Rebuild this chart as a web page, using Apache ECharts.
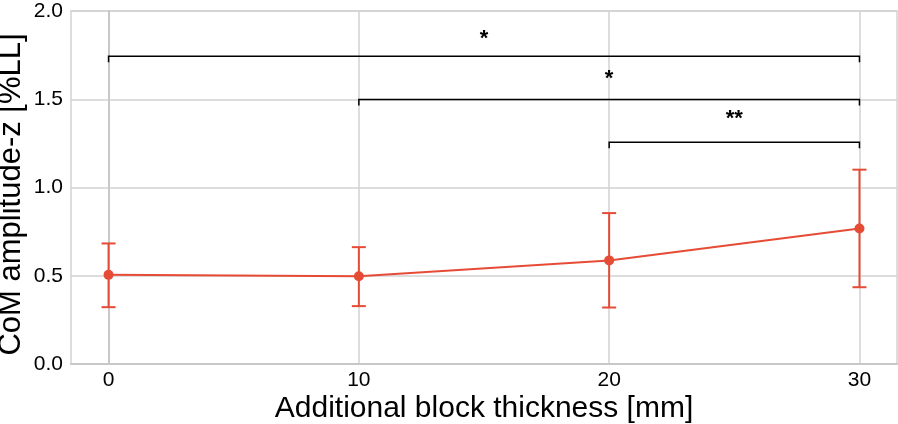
<!DOCTYPE html>
<html>
<head>
<meta charset="utf-8">
<script src="https://cdn.jsdelivr.net/npm/echarts@6/dist/echarts.min.js"></script>
<style>
  html, body { margin: 0; padding: 0; background: #fff; }
  #chart { width: 898px; height: 424px; }
</style>
</head>
<body>
<div id="chart"></div>
<script>
// ---- data ----
const xTicks = [0, 10, 20, 30];
const thickness = [0, 10, 20, 30];
const meanAmp = [0.505, 0.497, 0.587, 0.768];
const lowerAmp = [0.322, 0.328, 0.320, 0.435];
const upperAmp = [0.683, 0.662, 0.855, 1.101];
const bracketStart = [0, 10, 20];
const bracketEnd = [30, 30, 30];
const bracketLevel = [1.743, 1.498, 1.257];
const starLevel = [1.868, 1.641, 1.417];
const bracketLabel = ['*', '*', '**'];

const RED = '#E64B35';
const FONT = '"Liberation Sans", Arial, Helvetica, sans-serif';

const chart = echarts.init(document.getElementById('chart'), null, { renderer: 'canvas' });

const errData = thickness.map((x, i) => [x, lowerAmp[i], upperAmp[i]]);
const lineData = thickness.map((x, i) => [x, meanAmp[i]]);
const brData = bracketStart.map((s, i) => [s, bracketEnd[i], bracketLevel[i], starLevel[i]]);

const option = {
  animation: false,
  backgroundColor: '#ffffff',
  grid: {
    left: 71, right: 1, top: 11, bottom: 60,
    containLabel: false,
    outerBoundsMode: 'none',
    show: true, borderColor: '#d2d2d2', borderWidth: 1.5
  },
  xAxis: {
    type: 'value',
    min: -1.5, max: 31.5,
    name: 'Additional block thickness [mm]',
    nameLocation: 'middle',
    nameGap: 30,
    nameMoveOverlap: false,
    nameTextStyle: { fontFamily: FONT, fontSize: 30, color: '#000' },
    axisLine: { show: true, lineStyle: { color: '#c8c8c8', width: 2 } },
    axisTick: { show: false, customValues: xTicks },
    axisLabel: { customValues: xTicks, fontFamily: FONT, fontSize: 21, color: '#000', margin: 6 },
    splitLine: { show: true, lineStyle: { color: '#d2d2d2', width: 1.5 } }
  },
  yAxis: {
    type: 'value',
    min: 0, max: 2, interval: 0.5,
    name: 'CoM amplitude-z [%LL]',
    nameLocation: 'middle',
    nameGap: 44,
    nameMoveOverlap: false,
    nameTextStyle: { fontFamily: FONT, fontSize: 31, color: '#000', padding: [0, 14, 0, 0] },
    axisLine: { show: true, lineStyle: { color: '#c8c8c8', width: 2 } },
    axisTick: { show: false },
    axisLabel: { fontFamily: FONT, fontSize: 21, color: '#000', margin: 8,
      formatter: v => v.toFixed(1) },
    splitLine: { show: true, lineStyle: { color: '#d2d2d2', width: 1.5 } }
  },
  series: [
    {
      type: 'custom',
      z: 2,
      data: errData,
      encode: { x: 0, y: [1, 2] },
      renderItem: function (params, api) {
        const x = api.value(0);
        const lo = api.coord([x, api.value(1)]);
        const hi = api.coord([x, api.value(2)]);
        const cw = 7;
        const st = { stroke: RED, lineWidth: 2 };
        return {
          type: 'group',
          children: [
            { type: 'line', shape: { x1: lo[0], y1: lo[1], x2: hi[0], y2: hi[1] }, style: st },
            { type: 'line', shape: { x1: lo[0] - cw, y1: lo[1], x2: lo[0] + cw, y2: lo[1] }, style: st },
            { type: 'line', shape: { x1: hi[0] - cw, y1: hi[1], x2: hi[0] + cw, y2: hi[1] }, style: st }
          ]
        };
      }
    },
    {
      type: 'line',
      z: 3,
      data: lineData,
      symbol: 'circle',
      symbolSize: 10,
      lineStyle: { color: RED, width: 2 },
      itemStyle: { color: RED },
      silent: true
    },
    {
      type: 'custom',
      z: 4,
      data: brData,
      encode: { x: [0, 1], y: [2, 3] },
      renderItem: function (params, api) {
        const y = api.value(2);
        const p1 = api.coord([api.value(0), y]);
        const p2 = api.coord([api.value(1), y]);
        const ps = api.coord([(api.value(0) + api.value(1)) / 2, api.value(3)]);
        const tick = 6;
        return {
          type: 'group',
          children: [
            {
              type: 'polyline',
              shape: { points: [[p1[0], p1[1] + tick], [p1[0], p1[1]], [p2[0], p2[1]], [p2[0], p2[1] + tick]] },
              style: { stroke: '#000', lineWidth: 1.5, fill: null }
            },
            {
              type: 'text',
              x: ps[0],
              y: ps[1] + 5,
              style: {
                text: bracketLabel[params.dataIndex],
                fontFamily: FONT, fontSize: 22, fontWeight: 'bold',
                fill: '#000', align: 'center', verticalAlign: 'middle'
              }
            }
          ]
        };
      }
    }
  ]
};

chart.setOption(option);
</script>
</body>
</html>
